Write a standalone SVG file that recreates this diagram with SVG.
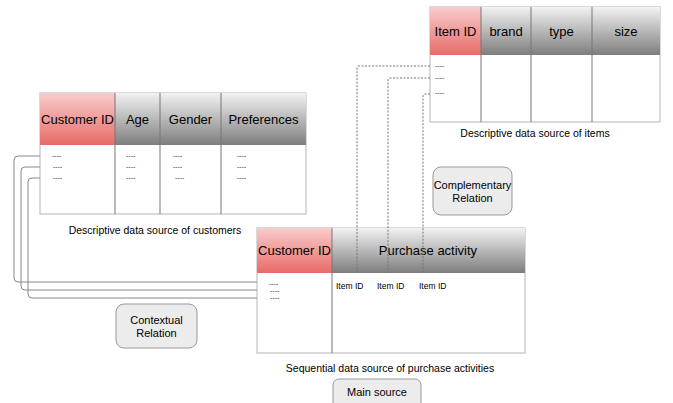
<svg xmlns="http://www.w3.org/2000/svg" width="673" height="403" viewBox="0 0 673 403">
<defs>
<linearGradient id="gRed" x1="0" y1="0" x2="0" y2="1"><stop offset="0" stop-color="#f8cccc"/><stop offset="1" stop-color="#e86b68"/></linearGradient>
<linearGradient id="gGray" x1="0" y1="0" x2="0" y2="1"><stop offset="0" stop-color="#f2f2f2"/><stop offset="1" stop-color="#7e7e7e"/></linearGradient>
<style>
text{font-family:"Liberation Sans",Arial,sans-serif;fill:#000}
.hd{font-size:13px;text-anchor:middle}
.lbl{font-size:10.5px;text-anchor:middle}
.ds{font-size:7px;fill:#333}
.iid{font-size:8.5px}
.bx{font-size:11px;text-anchor:middle}
.out{fill:#fff;stroke:#b5b5b5;stroke-width:1}
.div{stroke:#777;stroke-width:1}
.rb{fill:#ececec;stroke:#999;stroke-width:1}
.ctx{fill:none;stroke:#888;stroke-width:1}
.cmp{fill:none;stroke:#777;stroke-width:1;stroke-dasharray:2 1.5}
</style>
</defs>

<g id="customers">
<rect class="out" x="40" y="93" width="266" height="121"/>
<rect x="40" y="93" width="75" height="52" fill="url(#gRed)"/>
<rect x="115" y="93" width="191" height="52" fill="url(#gGray)"/>
<line class="div" x1="115" y1="93" x2="115" y2="214"/>
<line class="div" x1="160" y1="93" x2="160" y2="214"/>
<line class="div" x1="221" y1="93" x2="221" y2="214"/>
<text class="hd" x="77.5" y="124">Customer ID</text>
<text class="hd" x="137.5" y="124">Age</text>
<text class="hd" x="190.5" y="124">Gender</text>
<text class="hd" x="263.5" y="124">Preferences</text>
<text class="ds" x="52" y="158">----</text><text class="ds" x="53" y="169">----</text><text class="ds" x="53" y="180">----</text>
<text class="ds" x="126" y="158">----</text><text class="ds" x="126" y="169">----</text><text class="ds" x="126" y="180">----</text>
<text class="ds" x="173" y="158">----</text><text class="ds" x="173" y="169">----</text><text class="ds" x="175" y="180">----</text>
<text class="ds" x="237" y="158">----</text><text class="ds" x="237" y="169">----</text><text class="ds" x="237" y="180">----</text>
<text class="lbl" x="155" y="234">Descriptive data source of customers</text>
</g>

<g id="items">
<rect class="out" x="430" y="7" width="230" height="115"/>
<rect x="430" y="7" width="51" height="48" fill="url(#gRed)"/>
<rect x="481" y="7" width="179" height="48" fill="url(#gGray)"/>
<line class="div" x1="481" y1="7" x2="481" y2="122"/>
<line class="div" x1="531" y1="7" x2="531" y2="122"/>
<line class="div" x1="592" y1="7" x2="592" y2="122"/>
<text class="hd" x="455.5" y="36">Item ID</text>
<text class="hd" x="506" y="36">brand</text>
<text class="hd" x="561.5" y="36">type</text>
<text class="hd" x="626" y="36">size</text>
<text class="ds" x="435" y="68">----</text><text class="ds" x="435" y="80">----</text><text class="ds" x="435" y="95">----</text>
<text class="lbl" x="535" y="137">Descriptive data source of items</text>
</g>

<g id="purchases">
<rect class="out" x="257" y="228" width="268" height="125"/>
<rect x="257" y="228" width="75" height="45" fill="url(#gRed)"/>
<rect x="332" y="228" width="193" height="45" fill="url(#gGray)"/>
<line class="div" x1="332" y1="228" x2="332" y2="353"/>
<text class="hd" x="294.5" y="255">Customer ID</text>
<text class="hd" x="428" y="255">Purchase activity</text>
<text class="ds" x="269" y="286">----</text><text class="ds" x="270" y="293">----</text><text class="ds" x="270" y="300">----</text>
<text class="iid" x="336" y="289">Item ID</text>
<text class="iid" x="377" y="289">Item ID</text>
<text class="iid" x="419" y="289">Item ID</text>
<text class="lbl" x="390" y="372">Sequential data source of purchase activities</text>
</g>

<g id="contextual">
<rect class="rb" x="116" y="304" width="81" height="44" rx="8"/>
<text class="bx" x="156.5" y="324">Contextual</text>
<text class="bx" x="156.5" y="337">Relation</text>
</g>

<g id="complementary">
<rect class="rb" x="433" y="167" width="79" height="48" rx="8"/>
<text class="bx" x="472.5" y="189">Complementary</text>
<text class="bx" x="472.5" y="202">Relation</text>
</g>

<g id="main-source">
<rect class="rb" x="333" y="379" width="88" height="34" rx="6"/>
<text class="bx" x="377" y="396">Main source</text>
</g>

<g id="connectors">
<path class="ctx" d="M40,156 H18 Q14,156 14,160 V278 Q14,282 18,282 H257"/>
<path class="ctx" d="M40,167 H25 Q21,167 21,171 V286 Q21,290 25,290 H257"/>
<path class="ctx" d="M40,178 H32 Q28,178 28,182 V294 Q28,298 32,298 H257"/>
<path class="cmp" d="M430,66 H359 Q357,66 357,68 V273"/>
<path class="cmp" d="M430,78 H390 Q388,78 388,80 V273"/>
<path class="cmp" d="M430,94 H425 Q423,94 423,96 V273"/>
</g>
</svg>
